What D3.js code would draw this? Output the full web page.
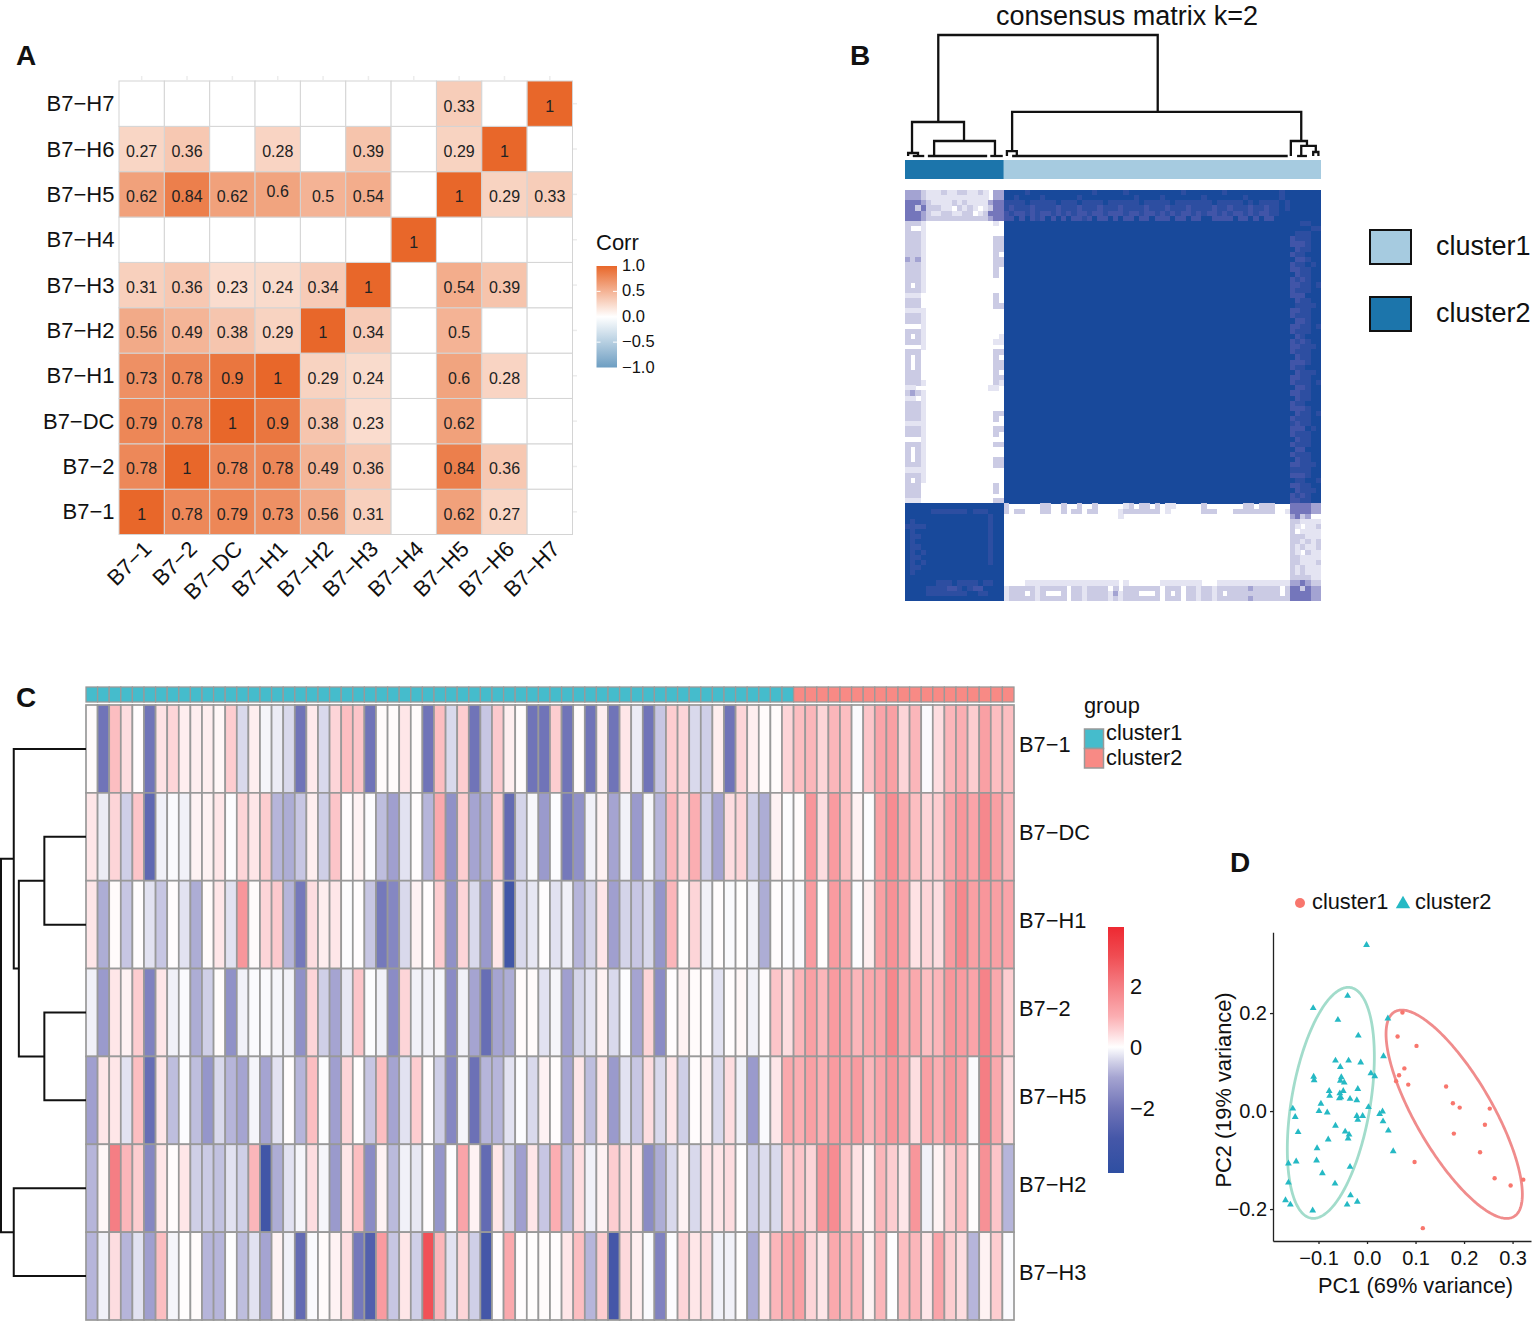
<!DOCTYPE html>
<html><head><meta charset="utf-8">
<script src="https://cdn.jsdelivr.net/npm/d3@7"></script>
<style>
html,body{margin:0;padding:0;background:#fff}
svg{display:block}
text{font-family:"Liberation Sans",Arial,sans-serif;fill:#111}
</style></head><body>
<svg id="fig" width="1535" height="1321"></svg>
<script>
/* ---------- Panel A data ---------- */
const corrNames = ["B7−1","B7−2","B7−DC","B7−H1","B7−H2","B7−H3","B7−H4","B7−H5","B7−H6","B7−H7"];
const corrRowB71 = [1,0.78,0.79,0.73,0.56,0.31,null,0.62,0.27,null];
const corrRowB72 = [0.78,1,0.78,0.78,0.49,0.36,null,0.84,0.36,null];
const corrRowDC  = [0.79,0.78,1,0.9,0.38,0.23,null,0.62,null,null];
const corrRowH1  = [0.73,0.78,0.9,1,0.29,0.24,null,0.6,0.28,null];
const corrRowH2  = [0.56,0.49,0.38,0.29,1,0.34,null,0.5,null,null];
const corrRowH3  = [0.31,0.36,0.23,0.24,0.34,1,null,0.54,0.39,null];
const corrRowH4  = [null,null,null,null,null,null,1,null,null,null];
const corrRowH5  = [0.62,0.84,0.62,0.6,0.5,0.54,null,1,0.29,0.33];
const corrRowH6  = [0.27,0.36,null,0.28,null,0.39,null,0.29,1,null];
const corrRowH7  = [null,null,null,null,null,null,null,0.33,null,1];
const corrTicks = [1,0.5,0,-0.5,-1];

/* ---------- Panel B data: consensus levels (0 white .. 8 full) ---------- */
const consensusLevels = ["#ffffff","#e4e4f2","#cbcbe4","#a3a3d2","#7476bb","#565eaf","#4155a8","#2d4ea1","#18499b"];
const consTopLeft = ["3332111211221121033","3332111111111111033","4443211112121111344","4424222110212101244","4443211221122012444","4443222222222222344"];
const consTopRest = [
"8888788888888888878888878888888888788888887888888888878",
"8878888788888878888888888788887888888878888888788888878",
"7777877777877787777877777787777787777777877777878777787",
"7677767777677767776777677776777677767777677677767767787",
"6766767667676766766766676676676767667676676766767667788",
"6686867686868667686686866866866686686688666686686866888"];
const consLeftStrip = ["2221","2001","2221","2221","2221","2221","2221","3231","2221","2221","2221","2221","2021","2221","1110","2220","2220","1111","2221","2221","0001","2221","2021","2221","0001","2220","2020","2020","2020","2220","2220","2221","1100","2321","1101","2221","2221","2221","2221","1111","2221","2221","0001","2221","2021","2021","2021","2221","1111","2221","2021","2220","2220","2220","1110"];
const consNearStrip = ["010","000","000","022","022","022","020","022","022","020","020","000","000","000","020","020","022","000","000","000","000","000","001","011","000","022","020","022","022","020","022","021","110","000","000","000","000","022","020","000","022","020","000","022","000","000","022","022","000","000","000","020","020","000","022"];
const consBottomLeft = ["8888888888888888888","8888877777778777888","8888888888888888788","8788888888888888788","7777888888888888788","8788888888888888788","8778888888888888788","8788888888888888788","8778888888888888788","8787888888888888788","8778888888888888788","8787888888888888788","8778888888888888888","8788888888888888888","8888888888888888888","8888887778777787788","8888777766787668888","8888777777778877888","8888888888888888888"];
const clusterSizes = [19,61];
/* merges of the column dendrogram: [left index, right index, height, left child height, right child height] */
const dendroMergesB = [
 [6.4,48.6,1,0.281,0.364],[1.35,11.35,0.281,0.025,0.124],[0.6,2.5,0.025,0,0],[5.6,17.3,0.124,0,0],
 [20.6,76.2,0.364,0.041,0.124],[19.6,21.5,0.041,0,0],[74.2,77.3,0.124,0,0.083],[76.2,79,0.083,0,0.033],[78.5,79.5,0.033,0,0]];
const dendroLeavesB = [[1.5,3.7],[4.4,15.8],[16.4,18.8],[20.6,73.6],[75.4,77.3]];

/* ---------- Panel C data ---------- */
const heatRowNames = ["B7−1","B7−DC","B7−H1","B7−2","B7−H5","B7−H2","B7−H3"];
const heatB71 = [.05,-2,.8,.4,.03,-2,.35,.5,.2,.2,.2,.1,.6,-.4,.2,-.1,-.2,-.4,-2,.25,-.4,.5,.8,.7,-2,.05,.05,.3,.05,-2,.8,-.4,.6,-2,-.6,.65,.2,.05,-2,-2,.6,-2,.05,-2,.2,-2,.3,-.2,-2,-.6,.6,.5,-.4,-.5,.2,-2,.5,.2,.05,.05,.5,.8,.9,.5,.9,.8,-.05,.7,1.2,1.3,.5,.9,-.05,.4,.9,1,.6,1.3,.8,.8];
const heatDC = [.3,-.2,.5,-.5,.7,-2.4,-.15,-.05,-.15,.15,.15,.3,-.03,.5,.3,.6,-.8,-.9,-.6,.2,-.5,.7,.03,.15,-.03,-.7,-1.1,-.3,.03,-.8,1.1,-1.4,.6,-1,-.9,.6,-2.3,-.45,-.08,-1.2,-.03,-1.9,-1.4,-.15,.15,-1,-.15,-1.2,-.1,-.8,.9,.5,1,-.5,-1,.4,.5,-.5,-.9,.15,-.03,.05,1.5,.4,1.4,.8,.15,-.03,1.3,1.7,1.1,.8,.5,.6,1.2,1.5,1.2,1.8,1.3,.9];
const heatH1 = [.3,-.9,.05,-.6,.03,-.3,-.6,.03,-.3,-.9,.05,.3,-.3,1.5,.05,.5,.65,-.8,-1.9,.4,.2,.3,-.03,.03,-.6,-1.9,-1.6,-.4,.15,.03,.6,-1.4,.5,-.4,-1.2,.3,-3.2,-.4,-.25,.03,-.3,-.15,-.8,-.45,.3,-1.1,-.45,-.6,-.4,-1.3,.9,.05,.5,-.15,.03,-.05,.02,-.15,-.9,.03,-.03,-.05,1.4,.02,1.4,1.1,-.03,.2,1.3,1.6,1.2,.35,.5,.4,1.4,1.8,1.3,1.5,1.3,1.2];
const heatB72 = [-.15,-1.2,.3,.15,.6,-1.7,.3,-.15,-.05,-.9,-.5,.05,-1.4,-.15,-.05,-.05,-.1,-.15,-1.4,.5,-.5,-1,-.25,.7,-.03,-.15,-1.5,.5,-.15,-.15,-.1,-1.5,-.15,-1,-2.2,-1,-.9,.05,.05,-.3,-.1,-1.1,-.45,-.3,.15,-.4,-.03,-1,.5,-1.5,.03,.15,.05,.03,-.3,.03,.1,-.15,.03,.7,.4,.9,1.3,.9,1.4,1.2,.9,1.1,1.2,1.8,1.1,1.1,.8,.9,1.5,1.4,1.2,1.9,1.1,.6];
const heatH5 = [-1.1,.3,.3,-.3,.8,-2.2,.3,-.7,-.03,-.7,-1.3,-.4,-.8,-1,-.1,-1,-.3,.03,-.8,.8,-.03,-1.1,.5,.02,-.6,.8,-1,-.3,.6,.03,-.5,-1.6,-.1,-2.1,-.8,-.8,-.3,-.03,-.4,.15,.03,-1,.3,-.7,.3,-1.2,-.3,-.6,.4,-.4,.3,-.5,.03,.15,-.4,.4,-.15,-1.2,-.05,.3,1.1,1,1.3,1,1.4,1.2,1.4,.9,1.2,1.5,1.2,.4,1.3,1,1.5,1.3,-.05,2,1.1,.4];
const heatH2 = [-.8,.1,2,.9,.6,-1.6,.3,.03,.3,-.5,-.55,-.65,-.3,-.5,.9,-3.2,-.9,-.3,-.1,.4,-.1,-1.2,.3,.8,-1.5,.15,-.75,-.15,-.25,.03,-1.3,-.02,1.2,.15,-2.3,.3,-.45,-1.1,.3,-.6,1,-.7,.4,-.15,.15,.6,.4,.3,-1.5,-.9,-.4,.15,-.4,.3,.3,.4,.03,-.5,-.35,-.4,.6,.7,.5,1.5,1.7,.8,.35,.15,.9,.6,.3,1.5,-.15,.15,.6,.8,.03,1.6,.7,-.8];
const heatH3 = [-.8,-.15,.4,-.8,-.3,-1.1,.8,-.1,.02,.05,-.8,-.8,-.02,-.7,-.3,-1,.15,-.15,-2.3,-.05,.05,.15,.4,-1.9,-2.7,1.4,-.6,.3,-.5,2.9,.9,-.3,.5,-.5,-3,.03,1.1,.03,.02,.05,.03,.3,.8,-.8,.6,-3,.45,.2,-.05,-1.7,-.03,.5,.3,.4,-.15,-.15,.02,-.9,.3,.9,1.2,1.3,.5,.3,1.1,.9,.9,.15,.9,-.01,.8,.9,.3,1.2,.6,.4,-.8,.15,.6,-.05];
const heatMatrix = [heatB71,heatDC,heatH1,heatB72,heatH5,heatH2,heatH3];
const groupCounts = [61,19];
const groupNames = ["cluster1","cluster2"];
const heatStopsV = [-4.1,-3,-2,-1,-.5,0,.5,1,2,3,3.9];
const heatStopsC = ["#2f4fa2","#4557a8","#7074b8","#a5a4d1","#cfcfe7","#ffffff","#fdd5d8","#fbaeb2","#f57e84","#f04c52","#ee2a33"];
const heatTicks = [2,0,-2];
/* nested row dendrogram: [height, left, right], leaves are row indices */
const dendroC = [1,[.85,0,[.79,[.49,1,2],[.49,3,4]]],[.85,5,6]];

/* ---------- Panel D data ---------- */
const pc1Cluster2 = [-.001,-.040,-.111,-.060,.043,-.018,.034,-.065,-.038,-.013,-.055,-.110,-.109,.008,.016,-.053,-.055,-.047,-.078,-.077,-.049,-.056,-.057,-.054,-.019,-.035,-.021,-.095,-.153,-.148,-.099,-.082,.003,.032,.026,-.021,-.009,-.019,.033,-.065,-.142,-.045,-.037,-.039,.044,-.080,-.103,.054,-.104,-.162,-.146,-.035,-.092,-.162,-.066,-.034,-.168,-.158,-.041,-.020,-.112];
const pc2Cluster2 = [.339,.235,.210,.186,.189,.154,.112,.103,.103,.099,.090,.070,.063,.077,.071,.069,.062,.058,.041,.031,.041,.036,.026,.028,.045,.025,.022,.015,.005,-.012,0,-.003,.008,-.001,-.006,-.010,-.010,-.018,-.021,-.030,-.043,-.042,-.048,-.056,-.040,-.058,-.076,-.082,-.101,-.107,-.103,-.114,-.127,-.146,-.148,-.172,-.182,-.191,-.191,-.185,-.203];
const pc1Cluster1 = [.073,.063,.102,.077,.066,.060,.085,.163,.177,.191,.253,.243,.179,.233,.098,.263,.296,.322,.115];
const pc2Cluster1 = [.201,.152,.133,.087,.073,.061,.054,.050,.016,.007,.005,-.028,-.046,-.084,-.104,-.137,-.152,-.140,-.239];
const pc1Ticks = [-.1,0,.1,.2,.3];
const pc2Ticks = [-.2,0,.2];
/* stat_ellipse fits: centre, half ranges, correlation */
const ellipseCluster1 = {cx:.1797,cy:-.0065,rx:.1405,ry:.2126,rho:-.77};
const ellipseCluster2 = {cx:-.0746,cy:.0167,rx:.0897,ry:.2357,rho:.40};

/* ---------- Drawing ---------- */
const svg = d3.select("#fig");
const txt = (g,x,y,s,size,opt={}) => g.append("text").attr("x",x).attr("y",y).text(s)
  .attr("font-size",size).attr("text-anchor",opt.anchor||"start")
  .attr("font-weight",opt.weight||null).attr("dominant-baseline",opt.base||"central");

/* panel letters */
[["A",16,55],["B",850,55],["C",16,697],["D",1230,862]].forEach(d=>txt(svg,d[1],d[2],d[0],28,{weight:"bold"}));

/* ===== A ===== */
(function(){
  const g = svg.append("g");
  const rows = [corrRowB71,corrRowB72,corrRowDC,corrRowH1,corrRowH2,corrRowH3,corrRowH4,corrRowH5,corrRowH6,corrRowH7];
  const x = d3.scaleBand().domain(corrNames).range([119,572.5]);
  const y = d3.scaleBand().domain(corrNames).range([534.5,81]);
  const color = d3.scaleLinear().domain([-1,0,1]).range(["#6d9ec2","#ffffff","#e8672a"]);
  corrNames.forEach(n=>{
    g.append("line").attr("x1",x(n)+x.bandwidth()/2).attr("x2",x(n)+x.bandwidth()/2).attr("y1",76).attr("y2",80).attr("stroke","#ececec").attr("stroke-width",1.5);
    g.append("line").attr("y1",y(n)+y.bandwidth()/2).attr("y2",y(n)+y.bandwidth()/2).attr("x1",573).attr("x2",577).attr("stroke","#ececec").attr("stroke-width",1.5);
  });
  rows.forEach((row,i)=>row.forEach((v,j)=>{
    g.append("rect").attr("x",x(corrNames[j])).attr("y",y(corrNames[i])).attr("width",x.bandwidth()).attr("height",y.bandwidth())
      .attr("fill",v==null?"#fff":color(v)).attr("stroke","#d4d4d4").attr("stroke-width",1);
  }));
  rows.forEach((row,i)=>row.forEach((v,j)=>{
    if(v==null) return;
    const raised = (rows[i]===corrRowH5 && corrNames[j]==="B7−H1") ? 5.5 : 0;
    txt(g,x(corrNames[j])+x.bandwidth()/2,y(corrNames[i])+y.bandwidth()/2+2.5-raised,String(v),16,{anchor:"middle"}).style("fill","#222");
  }));
  corrNames.forEach(n=>{
    txt(g,114.5,y(n)+y.bandwidth()/2,n,22,{anchor:"end"});
    const cx=x(n)+x.bandwidth()/2+6, cy=545;
    g.append("text").text(n).attr("font-size",22).attr("text-anchor","end").attr("dominant-baseline","central")
      .attr("transform",`translate(${cx},${cy}) rotate(-45)`);
  });
  txt(g,596,242,"Corr",22);
  const ly = d3.scaleLinear().domain([-1,1]).range([367.5,266]);
  const defs = svg.append("defs");
  const gr = defs.append("linearGradient").attr("id","corrGrad").attr("x1",0).attr("x2",0).attr("y1",1).attr("y2",0);
  d3.range(-1,1.01,0.25).forEach(v=>gr.append("stop").attr("offset",(v+1)/2).attr("stop-color",color(v)));
  g.append("rect").attr("x",596.5).attr("width",20.5).attr("y",ly(1)).attr("height",ly(-1)-ly(1)).attr("fill","url(#corrGrad)");
  corrTicks.forEach(t=>{
    txt(g,622,ly(t)-1,d3.format(".1f")(t).replace("-","−"),16.5);
    if(Math.abs(t)==.5){
      [[596.5,600.5],[613,617]].forEach(p=>g.append("line").attr("x1",p[0]).attr("x2",p[1]).attr("y1",ly(t)).attr("y2",ly(t)).attr("stroke","#fff").attr("stroke-width",1));
    }
  });
})();

/* ===== B ===== */
(function(){
  const g = svg.append("g");
  const N = d3.sum(clusterSizes);
  const idx = d3.range(N);
  const x = d3.scaleBand().domain(idx).range([905,1321]);
  const y = d3.scaleBand().domain(idx).range([190,601]);
  const M = idx.map(()=>idx.map(()=>8));
  const n2 = clusterSizes[0];
  for(let r=6;r<61;r++) for(let c=0;c<n2;c++) M[r][c]=0;
  for(let r=61;r<N;r++) for(let c=n2;c<N;c++) M[r][c]=0;
  const put=(r,c,v)=>{M[r][c]=v; M[N-1-c][N-1-r]=v;};
  consTopLeft.forEach((s,r)=>[...s].forEach((ch,c)=>put(r,c,+ch)));
  consTopRest.forEach((s,r)=>[...s].forEach((ch,k)=>put(r,n2+k,+ch)));
  consLeftStrip.forEach((s,k)=>[...s].forEach((ch,c)=>put(6+k,c,+ch)));
  consNearStrip.forEach((s,k)=>[...s].forEach((ch,i)=>put(6+k,16+i,+ch)));
  consBottomLeft.forEach((s,k)=>[...s].forEach((ch,c)=>{M[61+k][c]=+ch;}));
  const cells = M.flatMap((row,r)=>row.map((v,c)=>({r,c,v}))).filter(d=>d.v>0);
  g.append("g").attr("shape-rendering","crispEdges").selectAll("rect").data(cells).join("rect")
    .attr("x",d=>x(d.c)).attr("y",d=>y(d.r)).attr("width",x.bandwidth()+.4).attr("height",y.bandwidth()+.4)
    .attr("fill",d=>consensusLevels[d.v]);
  const anno = ["#1c75ab","#a6cbe0"];
  let start=0;
  clusterSizes.forEach((n,i)=>{
    g.append("rect").attr("x",x(start)).attr("y",160).attr("width",x.step()*n).attr("height",19).attr("fill",anno[i]);
    start+=n;
  });
  const px = d3.scaleLinear().domain([0,N]).range([905,1321]);
  const py = d3.scaleLinear().domain([0,1]).range([156,35]);
  const line = d3.line();
  const dg = g.append("g").attr("fill","none").attr("stroke","#111").attr("stroke-width",2.3);
  dendroMergesB.forEach(m=>{
    dg.append("path").attr("d",line([[px(m[0]),py(m[3])],[px(m[0]),py(m[2])],[px(m[1]),py(m[2])],[px(m[1]),py(m[4])]]));
  });
  dendroLeavesB.forEach(l=>dg.append("path").attr("d",line([[px(l[0]),py(0)],[px(l[1]),py(0)]])));
  txt(g,1127,16,"consensus matrix k=2",27,{anchor:"middle"});
  [["cluster1",anno[1],230],["cluster2",anno[0],297]].forEach(d=>{
    g.append("rect").attr("x",1370).attr("y",d[2]).attr("width",41).attr("height",34).attr("fill",d[1]).attr("stroke","#111").attr("stroke-width",2);
    txt(g,1436,d[2]+15.5,d[0],27);
  });
})();

/* ===== C ===== */
(function(){
  const g = svg.append("g");
  const nCol = heatMatrix[0].length, idx = d3.range(nCol);
  const x = d3.scaleBand().domain(idx).range([86,1014]);
  const y = d3.scaleBand().domain(d3.range(heatRowNames.length)).range([705,1320]);
  const color = d3.scaleLinear().domain(heatStopsV).range(heatStopsC);
  const groupColor = ["#45bccc","#f88a85"];
  const grey="#999999";
  idx.forEach(c=>g.append("rect").attr("x",x(c)).attr("y",687).attr("width",x.bandwidth()).attr("height",15)
     .attr("fill",groupColor[c<groupCounts[0]?0:1]).attr("stroke",grey).attr("stroke-width",1.3));
  heatMatrix.forEach((row,r)=>row.forEach((v,c)=>{
    g.append("rect").attr("x",x(c)).attr("y",y(r)).attr("width",x.bandwidth()).attr("height",y.bandwidth())
     .attr("fill",color(v)).attr("stroke",grey).attr("stroke-width",1.7);
  }));
  heatRowNames.forEach((n,r)=>txt(g,1019,y(r)+y.bandwidth()/2-4,n,21.8));
  const hx = d3.scaleLinear().domain([0,1]).range([86,1]);
  const dg = g.append("g").attr("fill","none").attr("stroke","#111").attr("stroke-width",2);
  const line = d3.line();
  (function walk(n){
    if(typeof n==="number") return {h:0,y:y(n)+y.bandwidth()/2};
    const a=walk(n[1]), b=walk(n[2]), h=n[0];
    dg.append("path").attr("d",line([[hx(a.h),a.y],[hx(h),a.y],[hx(h),b.y],[hx(b.h),b.y]]));
    return {h,y:(a.y+b.y)/2};
  })(dendroC);
  txt(g,1084,705.5,"group",21.8);
  groupNames.forEach((n,i)=>{
    g.append("rect").attr("x",1084.5).attr("y",729+i*19.5).attr("width",19).attr("height",19.5).attr("fill",groupColor[i]).attr("stroke",grey).attr("stroke-width",1.5);
    txt(g,1106,732.5+i*24.5,n,21.8);
  });
  const ly = d3.scaleLinear().domain([0,2]).range([1047,986]);
  const defs = svg.append("defs");
  const gr = defs.append("linearGradient").attr("id","heatGrad").attr("x1",0).attr("x2",0).attr("y1",1).attr("y2",0);
  const lo=ly.invert(1173), hi=ly.invert(927);
  heatStopsV.forEach((v,i)=>gr.append("stop").attr("offset",Math.max(0,(v-lo)/(hi-lo))).attr("stop-color",heatStopsC[i]));
  g.append("rect").attr("x",1108).attr("y",927).attr("width",16).attr("height",246).attr("fill","url(#heatGrad)");
  heatTicks.forEach(t=>txt(g,1130,ly(t),String(t).replace("-","−"),21.8));
})();

/* ===== D ===== */
(function(){
  const g = svg.append("g");
  const x = d3.scaleLinear().domain([-.1938,.338]).range([1273,1531]);
  const y = d3.scaleLinear().domain([-.265,.365]).range([1240.9,932.2]);
  const fmt = d=>d3.format(".1f")(d).replace("-","−");
  const ax = g.append("g").attr("transform","translate(0,1241)").call(d3.axisBottom(x).tickValues(pc1Ticks).tickFormat(fmt).tickSize(3).tickSizeOuter(0));
  const ay = g.append("g").attr("transform","translate(1273,0)").call(d3.axisLeft(y).tickValues(pc2Ticks).tickFormat(fmt).tickSize(3).tickSizeOuter(0));
  [ax,ay].forEach(a=>{a.selectAll("text").attr("font-size",20).style("font-family",'"Liberation Sans"').style("fill","#111");
    a.selectAll("path,line").attr("stroke","#222").attr("stroke-width",1.3);});
  ax.selectAll("text").attr("dy","0.9em");
  txt(g,1415.5,1285.5,"PC1 (69% variance)",21.8,{anchor:"middle"});
  g.append("text").text("PC2 (19% variance)").attr("font-size",21.8).attr("text-anchor","middle").attr("dominant-baseline","central")
    .attr("transform","translate(1223,1090) rotate(-90)");
  const line = d3.line().x(d=>x(d[0])).y(d=>y(d[1]));
  const ell = e=>{
    const delta=Math.acos(e.rho);
    return d3.range(0,2*Math.PI+.02,.02).map(t=>[e.cx+e.rx*Math.cos(t),e.cy+e.ry*Math.cos(t-delta)]);
  };
  g.append("path").attr("d",line(ell(ellipseCluster2))).attr("fill","none").attr("stroke","#a2dccb").attr("stroke-width",2.8);
  g.append("path").attr("d",line(ell(ellipseCluster1))).attr("fill","none").attr("stroke","#f08c8c").attr("stroke-width",2.8);
  const teal="#25b9c4", red="#f8766d";
  const tri = d3.symbol().type(d3.symbolTriangle).size(20);
  pc1Cluster2.forEach((v,i)=>g.append("path").attr("d",tri()).attr("transform",`translate(${x(v)},${y(pc2Cluster2[i])})`).attr("fill",teal));
  pc1Cluster1.forEach((v,i)=>g.append("circle").attr("cx",x(v)).attr("cy",y(pc2Cluster1[i])).attr("r",2.2).attr("fill",red));
  g.append("circle").attr("cx",1300).attr("cy",903).attr("r",5).attr("fill",red);
  txt(g,1312,901.5,groupNames[0],21.8);
  g.append("path").attr("d",d3.symbol().type(d3.symbolTriangle).size(90)()).attr("transform","translate(1403,904)").attr("fill",teal);
  txt(g,1415,901.5,groupNames[1],21.8);
})();
</script>
</body></html>
